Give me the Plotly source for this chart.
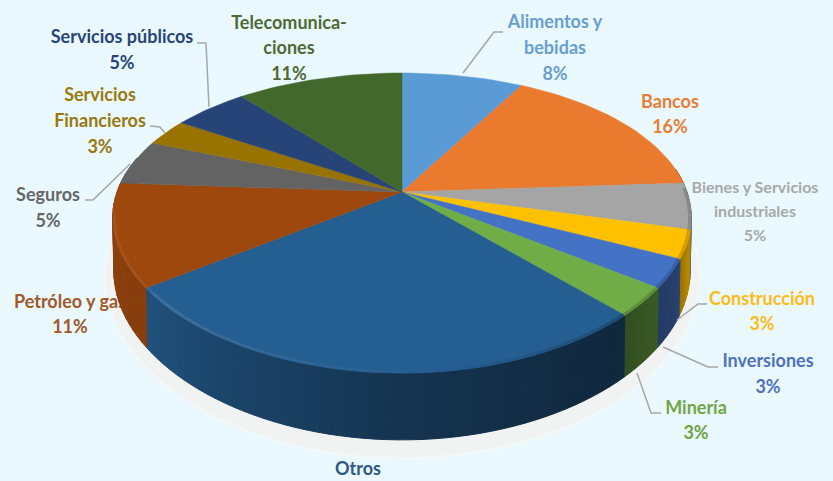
import math
import plotly.graph_objects as go

categories = ["Alimentos y bebidas", "Bancos", "Bienes y Servicios industriales", "Construcción",
              "Inversiones", "Minería", "Otros", "Petróleo y gas", "Seguros",
              "Servicios Financieros", "Servicios públicos", "Telecomunicaciones"]
shares = [8, 16, 5, 3, 3, 3, 27, 11, 5, 3, 5, 11]
colors = ["#5b9bd5", "#ea7a2e", "#a5a5a5", "#ffc000", "#4472c4", "#70ad47",
          "#255e91", "#9e480e", "#636363", "#997300", "#264478", "#43682b"]
text_colors = ["#6a9fd0", "#e87d35", "#a8a8a8", "#fdbc1a", "#4f72bd", "#70a645",
               "#2f5880", "#a2582a", "#666666", "#99780f", "#2a4478", "#4d6a35"]
# label text, line by line: (slice index, text, x, y, size)
label_lines = [
    (11, "Telecomunica-", 289, 24, 18), (11, "ciones", 289, 49, 18), (11, "11%", 289, 75, 18),
    (0, "Alimentos y", 555, 23, 18), (0, "bebidas", 555, 49, 18), (0, "8%", 555, 75, 18),
    (1, "Bancos", 670, 103, 18), (1, "16%", 670, 128, 18),
    (2, "Bienes y Servicios", 755, 189, 16), (2, "industriales", 755, 213, 16), (2, "5%", 755, 237, 16),
    (3, "Construcción", 762, 300, 18), (3, "3%", 762, 325, 18),
    (4, "Inversiones", 768, 362, 18), (4, "3%", 768, 388, 18),
    (5, "Minería", 696, 409, 18), (5, "3%", 696, 434, 18),
    (6, "Otros", 358, 470, 18),
    (7, "Petróleo y gas", 70, 303, 18), (7, "11%", 70, 328, 18),
    (8, "Seguros", 48, 196, 18), (8, "5%", 48, 222, 18),
    (9, "Servicios", 100, 96, 18), (9, "Financieros", 100, 122, 18), (9, "3%", 100, 148, 18),
    (10, "Servicios públicos", 122, 38, 18), (10, "5%", 122, 64, 18),
]
leaders = [
    [(463, 73), (494, 32), (503, 32)],
    [(197, 43), (206, 43), (209, 107)],
    [(150, 126), (160, 127), (165, 133)],
    [(85, 200), (93, 200), (130, 164)],
    [(707, 304), (698, 304), (677, 320)],
    [(718, 367), (708, 367), (663, 347)],
    [(661, 413), (651, 413), (637, 373)],
]

CX, CY, R, A, K, KX = 402, 192, 285, 143.6, 0.2067, 0.17
BY, BR, BA = 243.6, 284, 155.7
SY, SR, SA = 248, 292, 166
BG = "#e9f9ff"


def ring(theta, cy, r, a):
    t = math.radians(theta)
    u, v = math.sin(t), -math.cos(t)
    return CX + r * u / (1 - KX * v), cy + a * v / (1 - K * v)


def scale(hexc, f):
    vals = [int(hexc[i:i + 2], 16) for i in (1, 3, 5)]
    if f <= 1:
        vals = [round(c * f) for c in vals]
    else:
        vals = [round(c + (255 - c) * (f - 1)) for c in vals]
    return "#%02x%02x%02x" % tuple(vals)


SHADE = [(80, .35), (92, .42), (100, .62), (108, .72), (118, .55), (130, .5), (140, .42),
         (180, .55), (233, .85), (270, .9), (290, .9)]


def shade(theta):
    for (a0, f0), (a1, f1) in zip(SHADE, SHADE[1:]):
        if a0 <= theta <= a1:
            return f0 + (f1 - f0) * (theta - a0) / (a1 - a0)
    return .8


def rim_tone(theta):
    if theta < 140:
        return .82
    if theta < 175:
        return .82 + (theta - 140) / 35 * .18
    if theta < 233:
        return 1.0 + (theta - 175) / 58 * .12
    return 1.06


fig = go.Figure()

# soft shadow below the disc
for grow, col in ((2, "#f3f8f9"), (0, "#f1f2f2")):
    pts = [ring(t, SY, SR + grow, SA + grow) for t in range(0, 361, 3)]
    fig.add_trace(go.Scatter(x=[p[0] for p in pts], y=[p[1] for p in pts], mode="lines", fill="toself",
                             fillcolor=col, line=dict(color=col, width=0), hoverinfo="skip"))

# labels before the disc, so that the pie covers the end of "Petróleo y gas"
fig.add_trace(go.Scatter(
    x=[l[2] for l in label_lines], y=[l[3] for l in label_lines],
    text=[l[1] for l in label_lines], mode="text", textposition="middle center", cliponaxis=False,
    textfont=dict(family="Lato", weight=700, size=[l[4] for l in label_lines],
                  color=[text_colors[l[0]] for l in label_lines]),
    hoverinfo="skip"))

# slices
edges = [0]
for s in shares:
    edges.append(edges[-1] + s * 360 / sum(shares))

STEP = 2
rims = []
for i, c in enumerate(colors):
    a0, a1 = edges[i], edges[i + 1]
    n = max(2, int((a1 - a0) / STEP) + 1)
    angles = [a0 + (a1 - a0) * j / n for j in range(n + 1)]
    for t0, t1 in zip(angles, angles[1:]):
        tm = (t0 + t1) / 2
        if tm < 80 or tm > 285:
            continue
        p = [ring(t0, CY, R, A), ring(t1, CY, R, A), ring(t1, BY, BR, BA), ring(t0, BY, BR, BA)]
        p.append(p[0])
        col = scale(c, shade(tm))
        fig.add_trace(go.Scatter(x=[q[0] for q in p], y=[q[1] for q in p], mode="lines", fill="toself",
                                 fillcolor=col, line=dict(color=col, width=1), hoverinfo="skip"))
        if 88 < tm < 262:
            rims.append((t0, t1, c))

for i, c in enumerate(colors):
    a0, a1 = edges[i], edges[i + 1]
    n = max(2, int((a1 - a0) / STEP) + 1)
    p = [(CX, CY)] + [ring(a0 + (a1 - a0) * j / n, CY, R, A) for j in range(n + 1)] + [(CX, CY)]
    fig.add_trace(go.Scatter(x=[q[0] for q in p], y=[q[1] for q in p], mode="lines", fill="toself",
                             fillcolor=c, line=dict(color=c, width=0.5), name=categories[i],
                             hovertemplate=f"{categories[i]}: {shares[i]}%<extra></extra>"))

# bevel along the front edge of the top face
for t0, t1, c in rims:
    p = [ring(t0, CY + 0.7, R - 1.5, A - 1.5), ring(t1, CY + 0.7, R - 1.5, A - 1.5)]
    fig.add_trace(go.Scatter(x=[q[0] for q in p], y=[q[1] for q in p], mode="lines",
                             line=dict(color=scale(c, rim_tone((t0 + t1) / 2)), width=3), hoverinfo="skip"))

for pl in leaders:
    fig.add_trace(go.Scatter(x=[q[0] for q in pl], y=[q[1] for q in pl], mode="lines",
                             line=dict(color="#a6a6a6", width=1.5), hoverinfo="skip", cliponaxis=False))

fig.update_layout(
    width=833, height=481, margin=dict(l=0, r=0, t=0, b=0), showlegend=False,
    paper_bgcolor=BG, plot_bgcolor=BG,
    xaxis=dict(range=[0, 833], visible=False, fixedrange=True),
    yaxis=dict(range=[481, 0], visible=False, fixedrange=True),
)
fig.write_html("out.html", config={"displayModeBar": False},
               post_script="document.body.style.margin='0';document.body.style.overflow='hidden';"
                           "document.documentElement.style.background='" + BG + "';")
